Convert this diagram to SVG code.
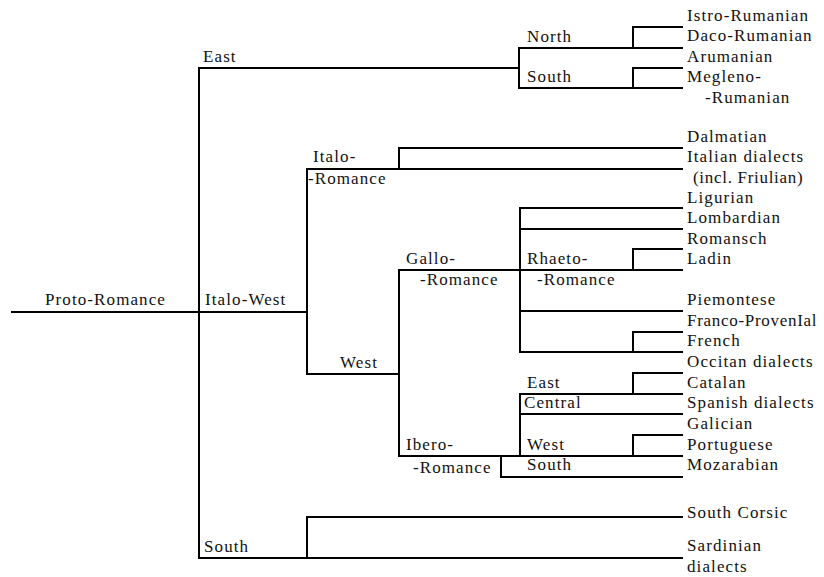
<svg xmlns="http://www.w3.org/2000/svg" width="824" height="577" viewBox="0 0 824 577">
<style>
  text { font-family: "Times New Roman", Times, "Liberation Serif", "DejaVu Serif", serif; font-size: 17px; letter-spacing: 1.1px; fill: #111; }
  .tight { letter-spacing: 0.7px; }
  .edge { fill: none; stroke: #000; stroke-width: 2; stroke-linecap: square; }
</style>
<rect width="824" height="577" fill="#fff"/>
<g id="connectors">
  <path class="edge" d="M12 312 H199 M199 68 V558"/>
  <path class="edge" d="M199 68 H519 M519 48 V88 M519 48 H682 M519 88 H682 M633 27 V48 M633 27 H682 M633 68 V88 M633 68 H682"/>
  <path class="edge" d="M199 312 H307 M307 169 V374 M307 169 H682 M399 148 V169 M399 148 H682"/>
  <path class="edge" d="M307 374 H399 M399 270 V456"/>
  <path class="edge" d="M399 270 H682 M520 208 V352 M520 208 H682 M520 229 H682 M633 249 V270 M633 249 H682 M520 311 H682 M520 352 H682 M633 332 V352 M633 332 H682"/>
  <path class="edge" d="M399 456 H682 M520 394 V456 M520 394 H682 M633 373 V394 M633 373 H682 M520 414 H682 M633 435 V456 M633 435 H682 M501 456 V477 M501 477 H682"/>
  <path class="edge" d="M199 558 H682 M307 517 V558 M307 517 H682"/>
</g>
<g id="node-proto"><text x="45" y="305">Proto-Romance</text></g>
<g id="node-east"><text x="203" y="62">East</text></g>
<g id="node-north"><text x="527" y="42">North</text></g>
<g id="node-east-south"><text x="527" y="82">South</text></g>
<g id="node-italo-west"><text x="205" y="305">Italo-West</text></g>
<g id="node-italo-romance"><text x="313" y="162">Italo-</text><text x="308" y="184">-Romance</text></g>
<g id="node-west"><text x="340" y="368">West</text></g>
<g id="node-gallo"><text x="406" y="264">Gallo-</text><text x="420" y="285">-Romance</text></g>
<g id="node-rhaeto"><text x="527" y="264">Rhaeto-</text><text x="537" y="285">-Romance</text></g>
<g id="node-ibero"><text x="406" y="450">Ibero-</text><text x="413" y="473">-Romance</text></g>
<g id="node-ibero-east"><text x="527" y="388">East</text></g>
<g id="node-ibero-central"><text x="524" y="408">Central</text></g>
<g id="node-ibero-west"><text x="527" y="450">West</text></g>
<g id="node-ibero-south"><text x="527" y="470">South</text></g>
<g id="node-south"><text x="204" y="552">South</text></g>
<g id="leaves">
  <g id="leaf-istro"><text x="687" y="21">Istro-Rumanian</text></g>
  <g id="leaf-daco"><text x="687" y="41">Daco-Rumanian</text></g>
  <g id="leaf-arumanian"><text x="687" y="62">Arumanian</text></g>
  <g id="leaf-megleno"><text x="687" y="82">Megleno-</text><text x="705" y="103">-Rumanian</text></g>
  <g id="leaf-dalmatian"><text x="687" y="142">Dalmatian</text></g>
  <g id="leaf-italian"><text x="687" y="162">Italian dialects</text><text x="693" y="183" class="tight">(incl. Friulian)</text></g>
  <g id="leaf-ligurian"><text x="687" y="203">Ligurian</text></g>
  <g id="leaf-lombardian"><text x="687" y="223">Lombardian</text></g>
  <g id="leaf-romansch"><text x="687" y="244">Romansch</text></g>
  <g id="leaf-ladin"><text x="687" y="264">Ladin</text></g>
  <g id="leaf-piemontese"><text x="687" y="305">Piemontese</text></g>
  <g id="leaf-franco"><text x="687" y="326" class="tight">Franco-ProvenIal</text></g>
  <g id="leaf-french"><text x="687" y="346">French</text></g>
  <g id="leaf-occitan"><text x="687" y="367">Occitan dialects</text></g>
  <g id="leaf-catalan"><text x="687" y="388">Catalan</text></g>
  <g id="leaf-spanish"><text x="687" y="408">Spanish dialects</text></g>
  <g id="leaf-galician"><text x="687" y="429">Galician</text></g>
  <g id="leaf-portuguese"><text x="687" y="450">Portuguese</text></g>
  <g id="leaf-mozarabian"><text x="687" y="470">Mozarabian</text></g>
  <g id="leaf-corsic"><text x="687" y="518">South Corsic</text></g>
  <g id="leaf-sardinian"><text x="687" y="551">Sardinian</text><text x="687" y="572">dialects</text></g>
</g>
</svg>
